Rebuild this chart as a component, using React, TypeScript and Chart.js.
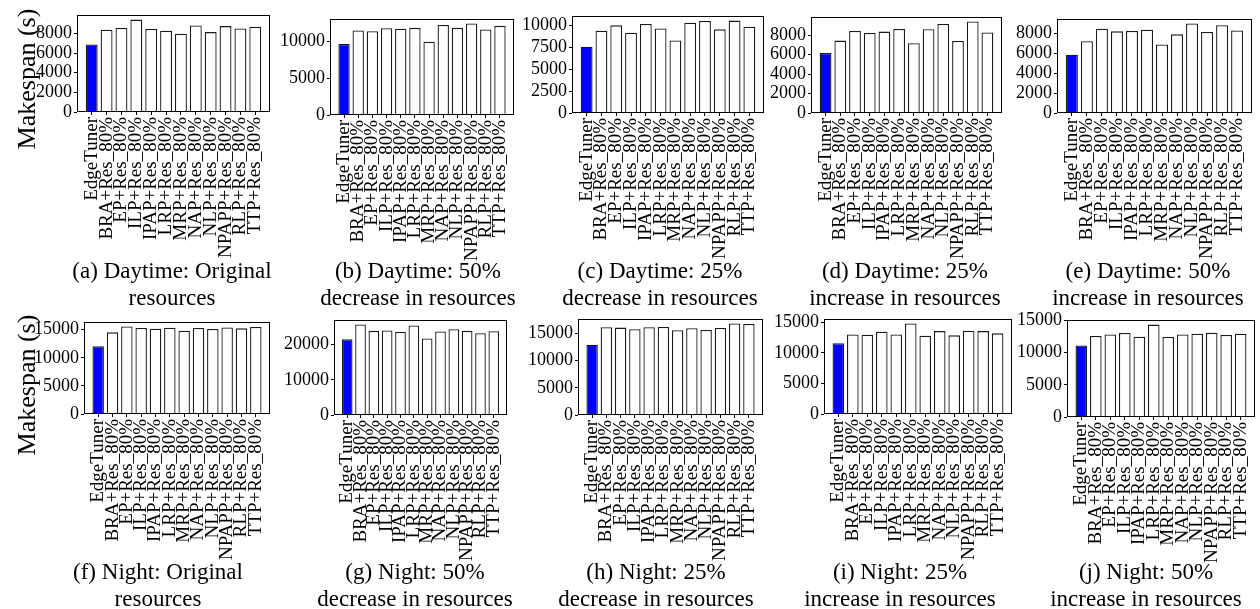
import React, { useEffect, useRef } from "react";
import { Chart, registerables } from "chart.js";

Chart.register(...registerables);

const categories = [
  "EdgeTuner",
  "BRA+Res_80%",
  "EP+Res_80%",
  "ILP+Res_80%",
  "IPAP+Res_80%",
  "LRP+Res_80%",
  "MRP+Res_80%",
  "NAP+Res_80%",
  "NLP+Res_80%",
  "NPAPP+Res_80%",
  "RLP+Res_80%",
  "TTP+Res_80%",
];

const dayOriginal = [6880, 8380, 8550, 9410, 8450, 8280, 7970, 8820, 8140, 8750, 8510, 8680];
const day50Decrease = [9650, 11470, 11380, 11790, 11700, 11830, 9950, 12230, 11830, 12410, 11610, 12100];
const day25Decrease = [7590, 9430, 10040, 9200, 10190, 9690, 8310, 10350, 10540, 9580, 10580, 9890];
const day25Increase = [6180, 7450, 8450, 8240, 8380, 8650, 7180, 8620, 9170, 7420, 9410, 8280];
const day50Increase = [5830, 7180, 8430, 8170, 8200, 8330, 6850, 7870, 8960, 8100, 8790, 8260];
const nightOriginal = [12060, 14530, 15590, 15290, 15180, 15350, 14820, 15290, 15120, 15410, 15240, 15470];
const night50Decrease = [21520, 25690, 23890, 23980, 23600, 25400, 21710, 23700, 24360, 23890, 23220, 23790];
const night25Decrease = [12960, 16170, 16110, 15800, 16170, 16240, 15620, 15990, 15680, 16050, 16850, 16790];
const night25Increase = [11600, 13050, 13000, 13480, 13050, 14830, 12840, 13590, 12890, 13650, 13590, 13220];
const night50Increase = [11130, 12590, 12850, 13060, 12490, 14370, 12440, 12850, 12960, 13110, 12750, 12960];

const yStepsTop = [2000, 5000, 2500, 2000, 2000];
const yStepsBottom = [5000, 10000, 5000, 5000, 5000];

const captionsTop = [
  ["(a) Daytime: Original", "resources"],
  ["(b) Daytime: 50%", "decrease in resources"],
  ["(c) Daytime: 25%", "decrease in resources"],
  ["(d) Daytime: 25%", "increase in resources"],
  ["(e) Daytime: 50%", "increase in resources"],
];
const captionsBottom = [
  ["(f) Night: Original", "resources"],
  ["(g) Night: 50%", "decrease in resources"],
  ["(h) Night: 25%", "decrease in resources"],
  ["(i) Night: 25%", "increase in resources"],
  ["(j) Night: 50%", "increase in resources"],
];

const yAxisTitle = "Makespan (s)";

// layout (frame boxes of each panel: left, top, right, bottom) and caption centres
const frames = [
  [77, 15, 270, 112],
  [330, 19, 514, 115],
  [572, 16, 764, 113],
  [811, 17, 1002, 113],
  [1057, 19, 1252, 113],
  [84, 322, 270, 414],
  [334, 320, 507, 415],
  [578, 319, 763, 415],
  [824, 319, 1012, 414],
  [1067, 320, 1255, 417],
];
const captionCenters = [172, 418, 660, 905, 1148, 158, 415, 656, 900, 1146];

const FONT = "'Liberation Serif', 'Times New Roman', serif";
const YW = 80;
const PT = 14;
const PR = 18;
const XH = 150;

const framePlugin = {
  id: "frameBox",
  afterDraw(chart: any) {
    const { ctx, chartArea } = chart;
    const l = Math.round(chartArea.left) + 0.5;
    const t = Math.round(chartArea.top) + 0.5;
    const r = Math.round(chartArea.right) - 0.5;
    const b = Math.round(chartArea.bottom) - 0.5;
    ctx.save();
    ctx.strokeStyle = "#000";
    ctx.lineWidth = 1;
    ctx.strokeRect(l, t, r - l, b - t);
    ctx.restore();
  },
};

function Panel({ values, step, frame }: { values: number[]; step: number; frame: number[] }) {
  const ref = useRef<HTMLCanvasElement | null>(null);
  const [l, t, r, b] = frame;
  const width = YW + (r - l) + PR;
  const height = PT + (b - t) + XH;

  useEffect(() => {
    if (!ref.current) return;
    const n = values.length;
    const margin = 0.05 * (n - 1 + 0.8);
    const xmin = -0.4 - margin;
    const xmax = n - 1 + 0.4 + margin;
    const ymax = Math.max(...values) * 1.05;
    const chart = new Chart(ref.current, {
      type: "bar",
      data: {
        datasets: [
          {
            data: values.map((v, i) => ({ x: i, y: v })),
            backgroundColor: values.map((_, i) => (i === 0 ? "#0000ff" : "#ffffff")),
            borderColor: "#1a1a1a",
            borderWidth: 1.3,
            barPercentage: 0.8,
            categoryPercentage: 1.0,
          } as any,
        ],
      },
      options: {
        responsive: false,
        animation: false,
        devicePixelRatio: 1,
        layout: { padding: { top: PT, right: PR, left: 0, bottom: 0 } },
        plugins: { legend: { display: false }, tooltip: { enabled: false } },
        scales: {
          x: {
            type: "linear",
            min: xmin,
            max: xmax,
            offset: false,
            grid: { offset: false, drawOnChartArea: false, drawTicks: true, tickLength: 3, color: "#000" },
            border: { display: false },
            ticks: {
              autoSkip: false,
              minRotation: 90,
              maxRotation: 90,
              color: "#000",
              padding: 2,
              font: { family: FONT, size: 19 },
              callback: (v: any) => categories[Math.round(Number(v))] ?? "",
            },
            afterBuildTicks: (s: any) => {
              s.ticks = categories.map((_, i) => ({ value: i }));
            },
            afterFit: (s: any) => {
              s.height = XH;
            },
          } as any,
          y: {
            type: "linear",
            min: 0,
            max: ymax,
            grid: { drawOnChartArea: false, drawTicks: true, tickLength: 3, color: "#000" },
            border: { display: false },
            ticks: {
              autoSkip: false,
              color: "#000",
              padding: 2,
              font: { family: FONT, size: 18 },
              callback: (v: any) => String(v),
            },
            afterBuildTicks: (s: any) => {
              const ticks: any[] = [];
              for (let v = 0; v <= ymax + 1e-6; v += step) ticks.push({ value: v });
              s.ticks = ticks;
            },
            afterFit: (s: any) => {
              s.width = YW;
            },
          } as any,
        },
      },
      plugins: [framePlugin],
    });
    return () => chart.destroy();
  }, [values, step]);

  return (
    <canvas
      ref={ref}
      width={width}
      height={height}
      style={{ position: "absolute", left: l - YW, top: t - PT, width, height }}
    />
  );
}

export default function App() {
  const allValues = [
    dayOriginal,
    day50Decrease,
    day25Decrease,
    day25Increase,
    day50Increase,
    nightOriginal,
    night50Decrease,
    night25Decrease,
    night25Increase,
    night50Increase,
  ];
  const steps = [...yStepsTop, ...yStepsBottom];
  const captions = [...captionsTop, ...captionsBottom];

  return (
    <div
      style={{
        position: "absolute",
        left: 0,
        top: 0,
        width: 1260,
        height: 609,
        overflow: "hidden",
        background: "#fff",
        fontFamily: FONT,
        color: "#000",
      }}
    >
      {allValues.map((vals, i) => (
        <Panel key={i} values={vals} step={steps[i]} frame={frames[i]} />
      ))}
      {[79, 385].map((cy, i) => (
        <div
          key={"yl" + i}
          style={{
            position: "absolute",
            left: 27,
            top: cy,
            transform: "translate(-50%, -50%) rotate(-90deg)",
            whiteSpace: "nowrap",
            fontSize: 26,
            lineHeight: "28px",
          }}
        >
          {yAxisTitle}
        </div>
      ))}
      {captions.map((lines, i) => (
        <div
          key={"cap" + i}
          style={{
            position: "absolute",
            left: captionCenters[i],
            top: i < 5 ? 257 : 558,
            transform: "translateX(-50%)",
            whiteSpace: "nowrap",
            textAlign: "center",
            fontSize: 23,
            lineHeight: "27px",
          }}
        >
          {lines[0]}
          <br />
          {lines[1]}
        </div>
      ))}
    </div>
  );
}
